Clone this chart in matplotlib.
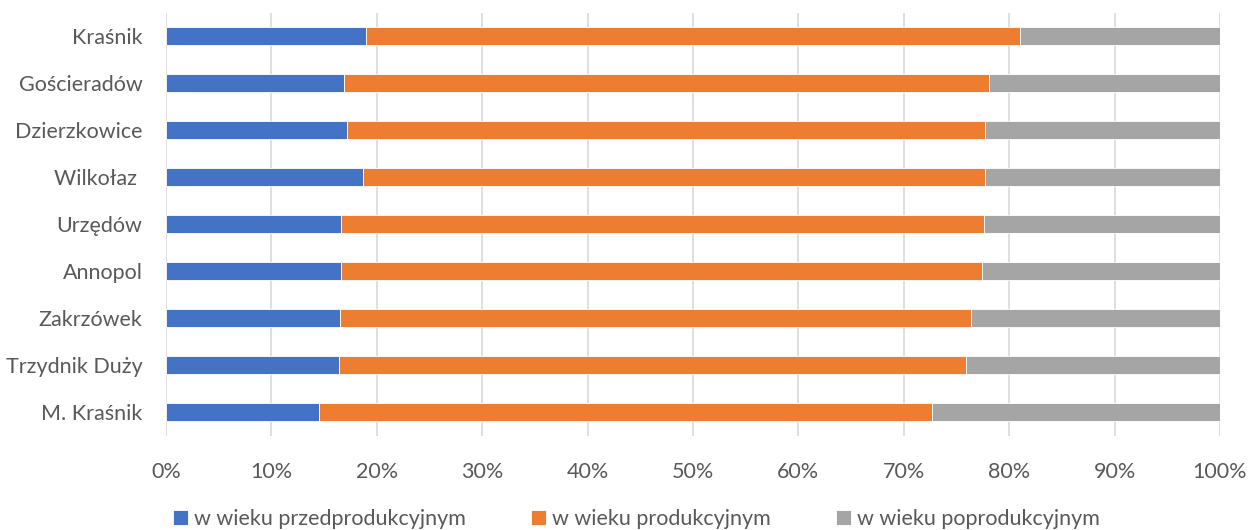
import numpy as np
import matplotlib.pyplot as plt
from matplotlib.ticker import PercentFormatter

# --------------------------------------------------
# Data (percent of population by age group)
# --------------------------------------------------
gminy = ["M. Kraśnik", "Trzydnik Duży", "Zakrzówek", "Annopol", "Urzędów",
         "Wilkołaz ", "Dzierzkowice", "Gościeradów", "Kraśnik"]
przed = [14.5, 16.4, 16.5, 16.6, 16.6, 18.7, 17.2, 16.9, 19.0]
prod_end = [72.7, 75.9, 76.4, 77.4, 77.6, 77.7, 77.7, 78.1, 81.0]
prod = [e - p for e, p in zip(prod_end, przed)]
po = [100 - e for e in prod_end]
ticks = np.arange(0, 101, 10)

labels = ["w wieku przedprodukcyjnym", "w wieku produkcyjnym", "w wieku poprodukcyjnym"]
colors = ["#4472c4", "#ed7d31", "#a5a5a5"]

plt.rcParams["font.family"] = ["Lato", "DejaVu Sans"]

fig = plt.figure(figsize=(12.48, 5.3), dpi=100)
ax = fig.add_axes([0.133, 0.178, 0.8446, 0.798])

y = np.arange(len(gminy))
left = np.zeros(len(gminy))
for vals, lab, col in zip([przed, prod, po], labels, colors):
    ax.barh(y, vals, left=left, height=0.39, color=col, label=lab,
            edgecolor="white", linewidth=0.6, zorder=3)
    left += np.array(vals)

ax.set_xlim(0, 100)
ax.set_ylim(-0.5, len(gminy) - 0.5)
ax.set_xticks(ticks)
ax.xaxis.set_major_formatter(PercentFormatter(decimals=0))
ax.set_yticks(y)
ax.set_yticklabels(gminy)
ax.grid(axis="x", color="#d9d9d9", linewidth=1.2, zorder=0)
for s in ax.spines.values():
    s.set_visible(False)
ax.tick_params(length=0, labelsize=15.5, colors="#595959")
ax.tick_params(axis="x", pad=19)
ax.tick_params(axis="y", pad=17)

fig.legend(loc="lower center", bbox_to_anchor=(0.51, -0.035), ncol=3,
           frameon=False, fontsize=15.5, handlelength=0.7, handleheight=0.7,
           handletextpad=0.3, columnspacing=3.0, labelcolor="#595959")

fig.savefig("out.png", dpi=100)
